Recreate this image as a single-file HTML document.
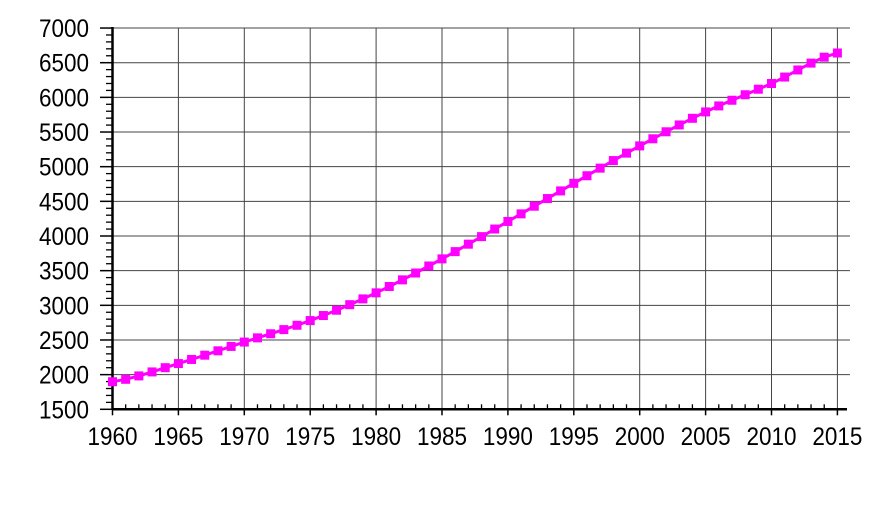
<!DOCTYPE html>
<html><head><meta charset="utf-8"><style>
html,body{margin:0;padding:0;background:#fff;width:872px;height:512px;overflow:hidden}
text{font-family:"Liberation Sans",sans-serif;font-size:22.5px;fill:#000}
</style></head><body>
<svg id="s" width="872" height="512" xmlns="http://www.w3.org/2000/svg"></svg>
<script>
const s=document.getElementById('s');let h='';
const X0=112.5,DX=13.18,Y0=409.3,DY=34.66/500;
const xf=y=>X0+(y-1960)*DX, yf=v=>Y0-(v-1500)*DY;
const T=(x,y,a,t)=>`<text transform="translate(${x},${y}) scale(1,1.13)" text-anchor="${a}">${t}</text>`;
for(let i=0;i<=11;i++){const y=yf(1500+i*500);
 if(i>0)h+=`<line x1="${X0}" x2="850" y1="${y}" y2="${y}" stroke="#444" stroke-width="1"/>`;
 h+=`<line x1="100" x2="${X0}" y1="${y}" y2="${y}" stroke="#000" stroke-width="1.5"/>`;
 h+=T(89,y+9,"end",1500+i*500);
 if(i<11)for(let k=1;k<5;k++){const yy=y-k*100*DY;h+=`<line x1="106" x2="${X0}" y1="${yy}" y2="${yy}" stroke="#000" stroke-width="1.3"/>`;}
}
for(let i=0;i<=11;i++){const x=xf(1960+i*5);
 if(i>0)h+=`<line x1="${x}" x2="${x}" y1="28" y2="${Y0}" stroke="#444" stroke-width="1"/>`;
 h+=T(x,445,"middle",1960+i*5);
 h+=`<line x1="${x}" x2="${x}" y1="${Y0}" y2="${Y0+6}" stroke="#000" stroke-width="1.5"/>`;
}
for(let yr=1961;yr<=2015;yr++){if(yr%5){const x=xf(yr);h+=`<line x1="${x}" x2="${x}" y1="${Y0-5}" y2="${Y0}" stroke="#000" stroke-width="1.3"/>`;}}
h+=`<line x1="${X0}" x2="${X0}" y1="27" y2="${Y0}" stroke="#000" stroke-width="2.5"/>`;
h+=`<line x1="${X0}" x2="847" y1="${Y0}" y2="${Y0}" stroke="#000" stroke-width="2.5"/>`;
const A=[1898,2160,2470,2780,3180,3670,4210,4760,5300,5790,6200,6640];
function val(yr){const t=(yr-1960)/5,i=Math.min(10,Math.floor(t)),f=t-i;
 const p0=A[Math.max(0,i-1)],p1=A[i],p2=A[i+1],p3=A[Math.min(11,i+2)];
 return p1+0.5*f*(p2-p0+f*(2*p0-5*p1+4*p2-p3+f*(3*(p1-p2)+p3-p0)));}
let pts=[];for(let yr=1960;yr<=2015;yr++)pts.push([xf(yr),yf(val(yr))]);
h+=`<polyline points="${pts.map(p=>p.join(',')).join(' ')}" fill="none" stroke="#ff00ff" stroke-width="3"/>`;
for(const p of pts)h+=`<rect x="${p[0]-4.5}" y="${p[1]-4.5}" width="9" height="9" fill="#ff00ff"/>`;
s.innerHTML=h;
</script>
</body></html>
